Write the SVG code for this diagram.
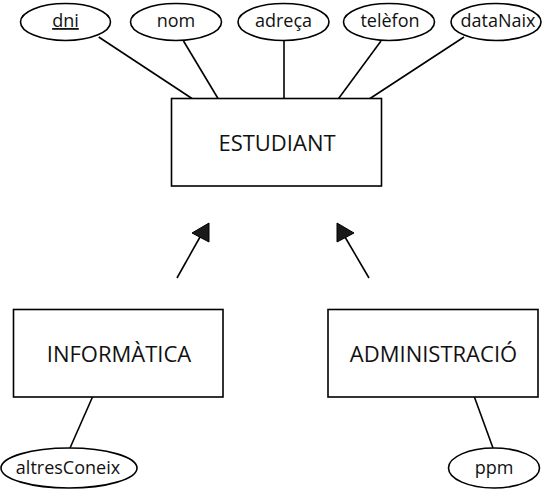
<svg xmlns="http://www.w3.org/2000/svg" width="543" height="489" viewBox="0 0 543 489">
<style>
.ent{fill:#fff;stroke:#000;stroke-width:1.6}
.att{fill:#fff;stroke:#000;stroke-width:1.6}
.et{font-family:"Open Sans","Noto Sans",sans-serif;font-size:22px;fill:#111;text-anchor:middle}
.at{font-family:"Open Sans","Noto Sans",sans-serif;font-size:18px;fill:#111;text-anchor:middle}
.ln{stroke:#000;stroke-width:1.6;fill:none}
.ah{fill:#1a1a1a;stroke:#000;stroke-width:1}
</style>
<rect width="543" height="489" fill="#fff"/>
<g id="connectors">
<line class="ln" x1="98.7" y1="37" x2="192" y2="98.5"/>
<line class="ln" x1="183.5" y1="41" x2="218" y2="98.5"/>
<line class="ln" x1="284" y1="41" x2="284" y2="98.5"/>
<line class="ln" x1="381" y1="41" x2="338.6" y2="98.5"/>
<line class="ln" x1="464" y1="37" x2="370" y2="98.5"/>
<line class="ln" x1="177" y1="278" x2="200" y2="237"/>
<polygon class="ah" points="209,223 192,233 209,242"/>
<line class="ln" x1="369" y1="278" x2="345" y2="237"/>
<polygon class="ah" points="337,223 354,233 337,242"/>
<line class="ln" x1="92.5" y1="397" x2="70" y2="448"/>
<line class="ln" x1="474.4" y1="397" x2="493" y2="448"/>
</g>
<g id="estudiant">
<rect class="ent" x="171.5" y="98.5" width="210" height="87.5"/>
<text class="et" x="277" y="151">ESTUDIANT</text>
</g>
<g id="informatica">
<rect class="ent" x="13.5" y="309.5" width="209.5" height="87.5"/>
<text class="et" x="119" y="362">INFORMÀTICA</text>
</g>
<g id="administracio">
<rect class="ent" x="328" y="309.5" width="210" height="87.5"/>
<text class="et" x="433.5" y="362">ADMINISTRACIÓ</text>
</g>
<g id="attr-dni">
<ellipse class="att" cx="65.5" cy="22" rx="45" ry="18.5"/>
<text class="at" x="65.5" y="27" text-decoration="underline">dni</text>
</g>
<g id="attr-nom">
<ellipse class="att" cx="176" cy="22" rx="45.5" ry="18.5"/>
<text class="at" x="176" y="27">nom</text>
</g>
<g id="attr-adreca">
<ellipse class="att" cx="283.5" cy="22" rx="45.5" ry="18.5"/>
<text class="at" x="283.5" y="27">adreça</text>
</g>
<g id="attr-telefon">
<ellipse class="att" cx="389" cy="22" rx="45.5" ry="18.5"/>
<text class="at" x="390" y="27">telèfon</text>
</g>
<g id="attr-dataNaix">
<ellipse class="att" cx="496" cy="22" rx="45" ry="18.5"/>
<text class="at" x="498" y="27">dataNaix</text>
</g>
<g id="attr-altresConeix">
<ellipse class="att" cx="69" cy="468" rx="68" ry="20"/>
<text class="at" x="68" y="474">altresConeix</text>
</g>
<g id="attr-ppm">
<ellipse class="att" cx="494" cy="468" rx="45.5" ry="20"/>
<text class="at" x="494" y="474">ppm</text>
</g>
</svg>
